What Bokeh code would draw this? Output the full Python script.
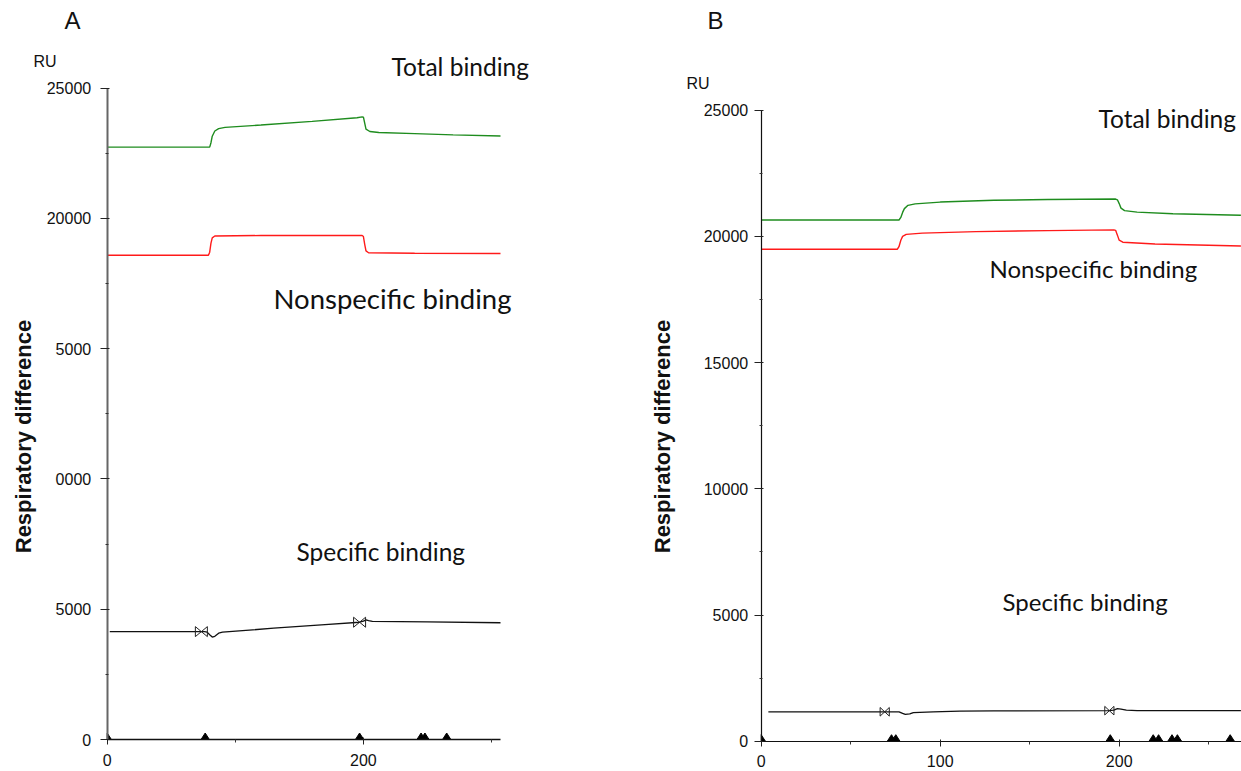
import math
from bokeh.plotting import figure
from bokeh.models import Range1d, FixedTicker, Label, LinearAxis
from bokeh.layouts import row
from bokeh.embed import file_html
from bokeh.resources import INLINE

# ---------------- data : panel A ----------------
a_total_t = [0, 80, 81, 82, 84, 87, 92, 120, 160, 195, 199, 200, 201, 202, 205, 212, 240, 270, 307]
a_total_ru = [22730, 22730, 22900, 23150, 23350, 23440, 23490, 23580, 23720, 23860, 23890, 23880, 23650,
              23420, 23330, 23290, 23250, 23200, 23160]
a_nonspec_t = [0, 79, 80, 81, 82, 84, 120, 199, 200, 201, 202, 204, 240, 307]
a_nonspec_ru = [18580, 18580, 18700, 19050, 19250, 19320, 19340, 19340, 19300, 19000, 18750, 18680, 18660, 18650]
a_spec_t = [2, 76, 78, 80, 82, 84, 87, 90, 130, 170, 197, 200, 202, 204, 207, 250, 307]
a_spec_ru = [4140, 4140, 4120, 4020, 3930, 3960, 4080, 4120, 4270, 4410, 4500, 4540, 4590, 4560, 4530, 4510, 4480]
a_cut_t = [73.5, 197]            # report points (bowtie marks) on the specific curve
a_cut_ru = [4140, 4500]
a_inject_t = [0, 76.5, 197, 245, 248, 265]   # injection marks on the time axis

# ---------------- data : panel B ----------------
b_total_t = [0, 77, 78, 79, 80, 82, 86, 100, 130, 160, 198, 199, 200, 201, 203, 210, 230, 268]
b_total_ru = [20650, 20650, 20750, 20950, 21100, 21230, 21290, 21360, 21430, 21460, 21480, 21450, 21300,
              21120, 21020, 20960, 20900, 20840]
b_nonspec_t = [0, 76, 77, 78, 79, 81, 90, 120, 160, 197, 198, 199, 200, 202, 220, 268]
b_nonspec_ru = [19490, 19490, 19600, 19850, 20000, 20080, 20130, 20190, 20230, 20260, 20240, 20050, 19850,
                19770, 19700, 19620]
b_spec_t = [4, 71, 77, 79, 80.5, 83, 85, 96, 111, 130, 194, 197, 199, 201, 204, 210, 268]
b_spec_ru = [1165, 1165, 1165, 1100, 1060, 1080, 1135, 1160, 1190, 1200, 1210, 1230, 1290, 1270, 1230, 1215, 1215]
b_cut_t = [69, 194.5]
b_cut_ru = [1165, 1210]
b_inject_t = [0, 72.8, 75.2, 195, 219, 222, 229.5, 232.5, 262]

# ---------------- ticks ----------------
y_major = [0, 5000, 10000, 15000, 20000, 25000]
y_minor = [2500, 7500, 12500, 17500, 22500]
a_y_labels = {0: "0", 5000: "5000", 10000: "0000", 15000: "5000", 20000: "20000", 25000: "25000"}
a_x_major = [0, 200]
a_x_minor = [100, 300]
b_x_major = [0, 100, 200]
b_x_minor = [50, 150, 250]
Y_TOP = 25000

GREEN = "#1e8c1e"
RED = "#ff1a1a"
BLACK = "#111111"
H = 771


class Panel:
    """Figure whose frame fills the whole canvas; axes sit at the data origin."""

    def __init__(self, page_left, width, ox, oy, x_end_px, x_end_val, top_px):
        self.page_left = page_left
        self.ox, self.oy = ox, oy                      # page px of data origin
        self.sx = (x_end_px - ox) / x_end_val          # px per time unit
        self.sy = (oy - top_px) / Y_TOP                # px per RU
        x0 = -(ox - page_left) / self.sx
        x1 = (page_left + width - ox) / self.sx
        y0 = -(H - oy) / self.sy
        y1 = oy / self.sy
        p = figure(width=width, height=H, output_backend="svg", toolbar_location=None, title=None,
                   x_range=Range1d(x0, x1), y_range=Range1d(y0, y1),
                   x_axis_location=None, y_axis_location=None)
        p.min_border_left = p.min_border_right = p.min_border_top = p.min_border_bottom = 0
        p.outline_line_color = None
        p.xgrid.visible = False
        p.ygrid.visible = False
        p.background_fill_color = "white"
        p.border_fill_color = "white"
        self.p = p

    def at(self, px, py):
        return (px - self.ox) / self.sx, (self.oy - py) / self.sy

    def axes(self, x_major, x_minor, x_bound, y_font, x_font, y_standoff, x_standoff):
        p = self.p
        ya = LinearAxis(fixed_location=0, bounds=(0, Y_TOP),
                        ticker=FixedTicker(ticks=y_major, minor_ticks=y_minor))
        xa = LinearAxis(fixed_location=0, bounds=(0, x_bound),
                        ticker=FixedTicker(ticks=x_major, minor_ticks=x_minor))
        for ax, f in ((ya, y_font), (xa, x_font)):
            ax.major_label_text_font = "Liberation Sans"
            ax.major_label_text_font_size = f
            ax.major_label_text_color = "#111111"
            ax.minor_tick_line_color = "#333333"
            ax.major_tick_line_color = "#222222"
        ya.major_tick_out = 7
        ya.major_tick_in = 2
        ya.minor_tick_out = 2
        ya.minor_tick_in = 1
        ya.major_label_standoff = y_standoff
        xa.major_tick_out = 5
        xa.major_tick_in = 2
        xa.minor_tick_out = 3
        xa.minor_tick_in = 0
        xa.major_label_standoff = x_standoff
        p.add_layout(ya, "left")
        p.add_layout(xa, "below")
        return xa, ya

    def curves(self, tt, tr, nt, nr, st, sr, ct, cr, it, cut_w_px, cut_h_px):
        p = self.p
        p.line(tt, tr, line_color=GREEN, line_width=1.4)
        p.line(nt, nr, line_color=RED, line_width=1.4)
        p.line(st, sr, line_color=BLACK, line_width=1.3)
        # bowtie report marks (outline), sized in pixels
        w = cut_w_px / self.sx
        h = cut_h_px / self.sy
        bx, by = [], []
        for t, v in zip(ct, cr):
            bx.append([t - w, t - w, t + w, t + w])
            by.append([v - h, v + h, v - h, v + h])
        p.patches(bx, by, fill_color=None, line_color="#222222", line_width=1.0)
        # injection triangles sitting on the time axis
        tw = 4.2 / self.sx
        th = 6.5 / self.sy
        tx, ty = [], []
        for t in it:
            tx.append([max(t - tw, 0), t + tw, t])
            ty.append([0, 0, th])
        p.patches(tx, ty, fill_color="black", line_color="black", line_width=1)

    def label(self, txt, px, py, font, size, style="normal", align="left", angle=0.0):
        x, y = self.at(px, py)
        self.p.add_layout(Label(x=x, y=y, text=txt, text_font=font, text_font_size=size,
                                text_font_style=style, text_align=align, text_baseline="middle",
                                angle=angle, text_color="#111111"))


# ---------------- panel A ----------------
A = Panel(page_left=0, width=640, ox=106.7, oy=739, x_end_px=500, x_end_val=307, top_px=87.5)
xa, ya = A.axes(a_x_major, a_x_minor, 307, "16px", "16px", 9, 9)
ya.major_label_overrides = a_y_labels
ya.axis_line_color = "#666666"
ya.axis_line_width = 2
xa.axis_line_color = "#111111"
xa.axis_line_width = 1.5
A.curves(a_total_t, a_total_ru, a_nonspec_t, a_nonspec_ru, a_spec_t, a_spec_ru,
         a_cut_t, a_cut_ru, a_inject_t, 6, 5)
A.label("A", 64, 20, "Liberation Sans", "24px")
A.label("RU", 33, 61, "Liberation Sans", "16px")
A.label("Total binding", 391, 66, "Lato", "24.5px")
A.label("Nonspecific binding", 273, 298, "Lato", "27.5px")
A.label("Specific binding", 296, 551, "Lato", "24.5px")
A.label("Respiratory difference", 23, 436, "Liberation Sans", "22px", "bold", "center", math.pi / 2)

# ---------------- panel B ----------------
B = Panel(page_left=640, width=601, ox=760.7, oy=740.7, x_end_px=1118.7, x_end_val=200, top_px=109.7)
xb, yb = B.axes(b_x_major, b_x_minor, (1241 - 760.7) / B.sx, "16px", "16px", 6, 9)
for ax in (xb, yb):
    ax.axis_line_color = "#111111"
    ax.axis_line_width = 1.2
B.curves(b_total_t, b_total_ru, b_nonspec_t, b_nonspec_ru, b_spec_t, b_spec_ru,
         b_cut_t, b_cut_ru, b_inject_t, 4.6, 4.3)
B.label("B", 707, 20, "Liberation Sans", "24px")
B.label("RU", 686, 83, "Liberation Sans", "16px")
B.label("Total binding", 1098, 118, "Lato", "24.5px")
B.label("Nonspecific binding", 989, 268, "Lato", "24px")
B.label("Specific binding", 1002, 601, "Lato", "24px")
B.label("Respiratory difference", 662, 436, "Liberation Sans", "22px", "bold", "center", math.pi / 2)

layout = row(A.p, B.p)
open("out.html", "w").write(file_html(layout, INLINE))
